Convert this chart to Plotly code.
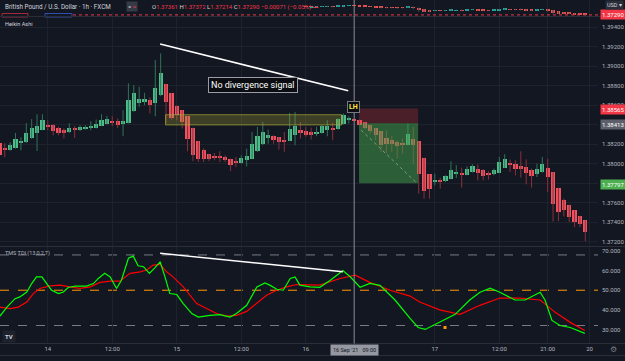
import plotly.graph_objects as go

W, H = 625, 361
BG = "#131722"
GRID = "#1e222d"
TXT = "#b2b5be"
FONT = "Roboto"

# ---------------- data ----------------
bar_index = list(range(-9, 101))
ha_open = [1.38211, 1.38160, 1.38143, 1.38164, 1.38211, 1.38221, 1.38262, 1.38314, 1.38348,
           1.38400, 1.38400, 1.38365, 1.38348, 1.38324, 1.38359, 1.38341, 1.38359, 1.38365, 1.38369,
           1.38386, 1.38410, 1.38437, 1.38437, 1.38410, 1.38420, 1.38537, 1.38626, 1.38640, 1.38650,
           1.38622, 1.38701, 1.38814, 1.38725, 1.38591, 1.38547, 1.38485, 1.38369, 1.38232, 1.38143,
           1.38095, 1.38074, 1.38071, 1.38068, 1.38050, 1.38026, 1.38010, 1.38033, 1.38050, 1.38126,
           1.38198, 1.38262, 1.38280, 1.38273, 1.38246, 1.38232, 1.38290, 1.38341, 1.38334, 1.38324,
           1.38307, 1.38314, 1.38341, 1.38369, 1.38352, 1.38403, 1.38448, 1.38458, 1.38451, 1.38427,
           1.38400, 1.38365, 1.38331, 1.38266, 1.38239, 1.38221, 1.38204, 1.38194, 1.38256, 1.38228,
           1.38061, 1.37889, 1.37820, 1.37835, 1.37817, 1.37845, 1.37889, 1.37900, 1.37886, 1.37913,
           1.37948, 1.37930, 1.37900, 1.37889, 1.37907, 1.37958, 1.38005, 1.37999, 1.37971, 1.37964,
           1.37937, 1.37896, 1.37913, 1.37958, 1.37913, 1.37753, 1.37629, 1.37578, 1.37519, 1.37461,
           1.37416]
ha_high = [1.38239, 1.38208, 1.38218, 1.38314, 1.38270, 1.38414, 1.38455, 1.38506, 1.38506,
           1.38444, 1.38403, 1.38376, 1.38362, 1.38414, 1.38383, 1.38393, 1.38393, 1.38434, 1.38451,
           1.38506, 1.38489, 1.38485, 1.38462, 1.38547, 1.38822, 1.38804, 1.38787, 1.38725, 1.38678,
           1.39061, 1.39130, 1.38814, 1.38725, 1.38598, 1.38547, 1.38485, 1.38369, 1.38232, 1.38156,
           1.38095, 1.38108, 1.38126, 1.38085, 1.38050, 1.38068, 1.38085, 1.38153, 1.38324, 1.38376,
           1.38427, 1.38348, 1.38290, 1.38273, 1.38324, 1.38520, 1.38530, 1.38427, 1.38376, 1.38369,
           1.38376, 1.38393, 1.38444, 1.38417, 1.38462, 1.38513, 1.38485, 1.38462, 1.38451, 1.38427,
           1.38400, 1.38365, 1.38331, 1.38341, 1.38283, 1.38239, 1.38256, 1.38410, 1.38376, 1.38228,
           1.38061, 1.37889, 1.37896, 1.37855, 1.37879, 1.38023, 1.37982, 1.37958, 1.37971, 1.37992,
           1.37992, 1.37944, 1.37920, 1.37948, 1.38068, 1.38095, 1.38040, 1.38033, 1.38126, 1.38043,
           1.37948, 1.37999, 1.38068, 1.38050, 1.37913, 1.37753, 1.37639, 1.37578, 1.37519, 1.37461,
           1.37416]
ha_low = [1.38054, 1.38064, 1.38131, 1.38153, 1.38136, 1.38211, 1.38252, 1.38129, 1.38341,
          1.38341, 1.38290, 1.38290, 1.38259, 1.38314, 1.38262, 1.38334, 1.38346, 1.38341, 1.38359,
          1.38383, 1.38403, 1.38383, 1.38365, 1.38280, 1.38410, 1.38530, 1.38581, 1.38598, 1.38513,
          1.38485, 1.38691, 1.38410, 1.38451, 1.38444, 1.38359, 1.38126, 1.38023, 1.38016, 1.38016,
          1.38026, 1.38033, 1.38016, 1.38016, 1.37923, 1.37964, 1.37999, 1.37971, 1.38050, 1.38119,
          1.38187, 1.38204, 1.38204, 1.38143, 1.38119, 1.38232, 1.38187, 1.38256, 1.38273, 1.38246,
          1.38280, 1.38307, 1.38280, 1.38239, 1.38348, 1.38400, 1.38410, 1.38434, 1.38393, 1.38352,
          1.38311, 1.38239, 1.38119, 1.38108, 1.38119, 1.38050, 1.38102, 1.38187, 1.37992, 1.37691,
          1.37639, 1.37639, 1.37776, 1.37742, 1.37810, 1.37838, 1.37851, 1.37753, 1.37879, 1.37907,
          1.37827, 1.37827, 1.37835, 1.37879, 1.37900, 1.37954, 1.37913, 1.37879, 1.37855, 1.37786,
          1.37753, 1.37862, 1.37907, 1.37707, 1.37406, 1.37409, 1.37457, 1.37399, 1.37348, 1.37348,
          1.37203]
ha_close = [1.38085, 1.38143, 1.38187, 1.38256, 1.38232, 1.38311, 1.38369, 1.38383, 1.38444,
            1.38383, 1.38331, 1.38311, 1.38314, 1.38365, 1.38348, 1.38376, 1.38376, 1.38386, 1.38410,
            1.38444, 1.38455, 1.38420, 1.38393, 1.38434, 1.38650, 1.38719, 1.38657, 1.38660, 1.38598,
            1.38776, 1.38924, 1.38632, 1.38468, 1.38496, 1.38427, 1.38256, 1.38085, 1.38050, 1.38043,
            1.38050, 1.38061, 1.38057, 1.38033, 1.37981, 1.38005, 1.38061, 1.38077, 1.38198, 1.38283,
            1.38324, 1.38290, 1.38246, 1.38221, 1.38221, 1.38352, 1.38383, 1.38314, 1.38297, 1.38297,
            1.38324, 1.38383, 1.38383, 1.38352, 1.38455, 1.38496, 1.38465, 1.38444, 1.38400, 1.38369,
            1.38334, 1.38290, 1.38194, 1.38204, 1.38204, 1.38177, 1.38194, 1.38307, 1.38194, 1.37896,
            1.37717, 1.37742, 1.37835, 1.37820, 1.37876, 1.37930, 1.37913, 1.37879, 1.37944, 1.37971,
            1.37900, 1.37869, 1.37879, 1.37937, 1.38012, 1.38050, 1.37981, 1.37941, 1.37954, 1.37900,
            1.37869, 1.37941, 1.37992, 1.37862, 1.37588, 1.37502, 1.37519, 1.37450, 1.37399, 1.37375,
            1.37296]

x_tick_vals = [0, 12, 24, 36, 48, 72, 84, 93, 100.8]
x_tick_text = ["14", "12:00", "15", "12:00", "16", "17", "12:00", "21:00", "20"]
price_ticks = [1.372, 1.374, 1.376, 1.378, 1.380, 1.382, 1.384, 1.386, 1.388, 1.390, 1.392, 1.394]
price_ticks_hidden = [1.378, 1.384]   # covered by the position-tool price labels
tdi_ticks = [30, 40, 50, 60, 70]
tdi_levels = [68, 50, 32]

tdi_green_x = [-8.9, -7.6, -6.1, -5.2, -3.9, -3.0, -2.1, -1.1, -0.2, 0.7, 2.0, 2.9, 3.8, 5.1, 7.2,
               8.5, 9.4, 10.6, 11.6, 12.8, 13.7, 15.0, 15.9, 16.8, 17.8, 18.9, 19.9, 20.9, 21.8,
               22.7, 24.0, 25.2, 26.8, 28.0, 30.2, 32.0, 33.9, 35.1, 37.0, 38.9, 40.4, 41.3, 42.6,
               43.8, 45.1, 46.0, 46.9, 48.8, 50.6, 52.5, 54.9, 56.2, 58.1, 59.9, 61.8, 64.6, 67.4,
               68.9, 70.2, 72.9, 75.8, 78.5, 80.4, 82.3, 84.1, 86.9, 88.8, 91.6, 92.5, 93.8, 95.3,
               97.2, 99.9]
tdi_green = [36.8, 41.4, 45.7, 46.6, 49.1, 53.4, 56.8, 56.8, 53.4, 50.0, 48.3, 49.1, 51.4, 52.1, 52.1,
             53.4, 56.0, 58.6, 56.8, 50.9, 55.1, 66.3, 67.4, 62.5, 62.0, 58.6, 61.4, 64.5, 56.8,
             48.3, 47.8, 43.2, 38.1, 36.3, 37.2, 37.5, 36.3, 38.1, 42.3, 51.7, 53.7, 52.6, 50.5,
             50.0, 56.0, 56.8, 52.6, 51.7, 51.5, 55.0, 60.0, 57.0, 51.5, 53.5, 52.5, 45.0, 35.6,
             31.0, 30.0, 33.6, 37.7, 45.0, 49.0, 51.0, 49.0, 45.0, 45.0, 49.0, 45.0, 34.6, 32.0,
             31.0, 28.0]
tdi_red_x = [-8.9, -7.0, -5.5, -3.9, -2.7, -1.5, 0.4, 2.3, 4.1, 6.0, 7.9, 9.7, 11.6, 13.4, 15.3,
             17.2, 18.4, 19.6, 20.9, 22.1, 23.3, 25.2, 27.7, 29.6, 31.4, 33.3, 35.1, 37.0, 38.9,
             40.7, 42.6, 44.4, 46.3, 48.8, 50.6, 54.4, 57.2, 59.9, 63.7, 67.4, 69.2, 72.9, 76.7,
             80.4, 84.1, 87.8, 91.6, 94.4, 97.2, 99.9]
tdi_red = [41.4, 40.6, 41.4, 44.0, 48.3, 50.9, 52.2, 52.6, 51.7, 50.9, 51.7, 54.0, 54.6, 54.6, 58.6,
           59.4, 60.3, 62.8, 63.2, 59.4, 56.8, 51.7, 43.2, 40.6, 38.1, 36.8, 37.2, 39.2, 43.2,
           47.4, 50.0, 51.7, 52.9, 52.6, 52.6, 56.0, 57.7, 54.0, 50.0, 47.0, 44.0, 40.0, 37.7,
           42.3, 46.0, 46.0, 45.0, 38.7, 33.6, 29.5]

# drawings (in data units)
zone_box = dict(x0=21.9, x1=54.7, y0=1.38396, y1=1.38501)
trend_price = dict(x0=20.9, y0=1.39226, x1=55.9, y1=1.38746)
trend_tdi = dict(x0=20.9, y0=68.8, x1=54.9, y1=59.4)
pos_x = (57.9, 68.9)
pos_stop, pos_entry, pos_target = 1.38565, 1.38413, 1.37797
last_price = 1.37290
cross_x = 57
dot_x, dot_v = 73.9, 31.0

# ---------------- helpers ----------------
PR = 598 / W


def py(y):
    return 1 - y / H


def px(x):
    return x / W


def body_parts(o, c):
    base = [min(a, b) for a, b in zip(o, c)]
    hgt = [max(abs(b - a), 0.00004) for a, b in zip(o, c)]
    return base, hgt


def wick_xy(idx, lo, hi, mask):
    xs, ys = [], []
    for i, l, h, m in zip(idx, lo, hi, mask):
        if m:
            xs += [i, i, None]
            ys += [l, h, None]
    return xs, ys


up = [c >= o for o, c in zip(ha_open, ha_close)]
dn = [not u for u in up]
base, hgt = body_parts(ha_open, ha_close)

UP_C, DN_C = "#4dbd8a", "#ef5360"
UP_W, DN_W = "#2f7458", "#8c2f3c"

fig = go.Figure()

# main pane wicks + bodies
wx, wy = wick_xy(bar_index, ha_low, ha_high, up)
fig.add_trace(go.Scatter(x=wx, y=wy, mode="lines", line=dict(color=UP_W, width=1),
                         hoverinfo="skip", xaxis="x", yaxis="y"))
wx, wy = wick_xy(bar_index, ha_low, ha_high, dn)
fig.add_trace(go.Scatter(x=wx, y=wy, mode="lines", line=dict(color=DN_W, width=1),
                         hoverinfo="skip", xaxis="x", yaxis="y"))
fig.add_trace(go.Bar(x=bar_index, y=hgt, base=base, width=0.78,
                     marker=dict(color=[UP_C if u else DN_C for u in up], line=dict(width=0)),
                     xaxis="x", yaxis="y", hoverinfo="skip"))

# top (collapsed) pane
wx, wy = wick_xy(bar_index, ha_low, ha_high, [True] * len(bar_index))
fig.add_trace(go.Scatter(x=wx, y=wy, mode="lines", line=dict(color="#3a4a50", width=1),
                         hoverinfo="skip", xaxis="x3", yaxis="y3"))
fig.add_trace(go.Bar(x=bar_index, y=hgt, base=base, width=0.7,
                     marker=dict(color=["#26a69a" if u else "#ef5350" for u in up], line=dict(width=0)),
                     xaxis="x3", yaxis="y3", hoverinfo="skip"))

# TDI pane
fig.add_trace(go.Scatter(x=tdi_red_x, y=tdi_red, mode="lines", line=dict(color="#ff0000", width=1.2),
                         xaxis="x2", yaxis="y2", hoverinfo="skip"))
fig.add_trace(go.Scatter(x=tdi_green_x, y=tdi_green, mode="lines", line=dict(color="#00ff00", width=1.2),
                         xaxis="x2", yaxis="y2", hoverinfo="skip"))
fig.add_trace(go.Scatter(x=[dot_x], y=[dot_v], mode="markers",
                         marker=dict(color="#ff9800", size=3, symbol="square"),
                         xaxis="x2", yaxis="y2", hoverinfo="skip"))

shapes = []
# yellow zone
shapes.append(dict(type="rect", xref="x", yref="y", layer="above", **zone_box,
                   fillcolor="rgba(160,160,50,0.30)", line=dict(color="rgba(170,170,60,0.65)", width=1)))
# position tool
shapes.append(dict(type="rect", xref="x", yref="y", layer="above", x0=pos_x[0], x1=pos_x[1],
                   y0=pos_entry, y1=pos_stop, fillcolor="rgba(242,54,69,0.25)", line=dict(width=0)))
shapes.append(dict(type="rect", xref="x", yref="y", layer="above", x0=pos_x[0], x1=pos_x[1],
                   y0=pos_target, y1=pos_entry, fillcolor="rgba(70,165,75,0.5)", line=dict(width=0)))
shapes.append(dict(type="line", xref="x", yref="y", layer="above", x0=pos_x[0] + 0.4, y0=pos_entry - 0.0007,
                   x1=pos_x[1] - 0.2, y1=pos_target, line=dict(color="rgba(200,200,200,0.55)", width=1, dash="dot")))
# trend lines
shapes.append(dict(type="line", xref="x", yref="y", layer="above", **trend_price,
                   line=dict(color="#ffffff", width=1.5)))
shapes.append(dict(type="line", xref="x2", yref="y2", layer="above", **trend_tdi,
                   line=dict(color="#ffffff", width=1.5)))
# TDI levels
for lv in tdi_levels:
    shapes.append(dict(type="line", xref="paper", yref="y2", x0=0, x1=PR, y0=lv, y1=lv, layer="below",
                       line=dict(color="#ff9800" if lv == 50 else "#787b86", width=1, dash="dash")))
# top pane cover behind legend and price line
shapes.append(dict(type="rect", xref="paper", yref="paper", x0=0, x1=px(303), y0=py(12.5), y1=1,
                   fillcolor=BG, line=dict(width=0), layer="above"))
shapes.append(dict(type="line", xref="paper", yref="y3", x0=px(73), x1=PR, y0=last_price, y1=last_price,
                   line=dict(color="#f23645", width=1, dash="dot"), layer="above"))
shapes.append(dict(type="rect", xref="paper", yref="paper", x0=px(2), x1=px(28), y0=py(17), y1=py(13.5),
                   line=dict(color="#a3283a", width=1), layer="above"))
shapes.append(dict(type="rect", xref="paper", yref="paper", x0=px(45), x1=px(72), y0=py(17), y1=py(13.5),
                   line=dict(color="#2f4fb0", width=1), layer="above"))
# pane separators
for yy in (16.5, 246.5, 343.5, 355.5):
    shapes.append(dict(type="line", xref="paper", yref="paper", x0=0, x1=1, y0=py(yy), y1=py(yy),
                       line=dict(color="#2a2e39", width=1), layer="above"))
# crosshair vertical
shapes.append(dict(type="line", xref="x", yref="paper", x0=cross_x, x1=cross_x, y0=py(343.5), y1=1,
                   line=dict(color="#8a8d96", width=1), layer="above"))

ann = []


def label(x, y, text, size=6, color=TXT, xanchor="left", **kw):
    ann.append(dict(x=px(x), y=py(y), xref="paper", yref="paper", text=text, showarrow=False,
                    xanchor=xanchor, yanchor="middle", font=dict(family=FONT, size=size, color=color), **kw))


label(3, 6.5, "British Pound / U.S. Dollar · 1h · FXCM", size=6.3, color="#d1d4dc")
label(126, 6.5, "<span style='color:#d1d4dc'>=</span> <span style='color:#f23645'>=</span>", size=6,
      bgcolor="#363a45", borderpad=1)
R = "#f23645"
ohlc = (f"O<span style='color:{R}'>1.37361</span> H<span style='color:{R}'>1.37372</span> "
        f"L<span style='color:{R}'>1.37214</span> C<span style='color:{R}'>1.37290</span> "
        f"<span style='color:{R}'>−0.00071 (−0.05%)</span>")
label(150, 6.5, ohlc, size=6.0, color="#d1d4dc")
label(308, 6.5, "<span style='color:#26a69a'>▬</span><span style='color:#f23645'>▬</span>", size=4)
label(3, 24, "Heikin Ashi", size=5.5, color="#d1d4dc")
label(3, 253, "TMS TDI (13,0,2,7)", size=5.5, color=TXT)
label(252.5, 85.5, "No divergence signal", size=9, color="#ffffff", xanchor="center",
      bgcolor="#0b0d12", bordercolor="#9a9da5", borderwidth=1, borderpad=2)
label(353.3, 106.7, "<b>LH</b>", size=7, color="#ffeb3b", xanchor="center",
      bgcolor="#0b0d12", bordercolor="#777a82", borderwidth=1, borderpad=1)
# price scale labels
label(600, 109, f"{pos_stop:.5f}", size=6, color="#ffffff", bgcolor="#f23645", borderpad=1)
label(600, 124, f"{pos_entry:.5f}", size=6, color="#ffffff", bgcolor="#5d606b", borderpad=1)
label(600, 184, f"{pos_target:.5f}", size=6, color="#ffffff", bgcolor="#4caf50", borderpad=1)
label(600, 14.5, f"{last_price:.5f}", size=6, color="#ffffff", bgcolor="#f23645", borderpad=1)
label(605, 5.5, "USD ▾", size=5.5, color="#d1d4dc", bgcolor="#2a2e39", borderpad=1)
label(354.6, 349.5, "16 Sep '21   09:00", size=5.5, color="#131722", xanchor="center",
      bgcolor="#9598a1", borderpad=2)
label(613, 349.5, "⚙", size=8, color="#787b86", xanchor="center")
label(9, 336, "<b>TV</b>", size=6, color="#d1d4dc", xanchor="center", bgcolor="#1e222d", borderpad=2)

axis_common = dict(showline=False, zeroline=False, ticks="", gridcolor=GRID, gridwidth=1)

fig.update_layout(
    width=W, height=H, margin=dict(l=0, r=0, t=0, b=0),
    paper_bgcolor=BG, plot_bgcolor=BG, showlegend=False, bargap=0,
    shapes=shapes, annotations=ann,
    xaxis=dict(domain=[0, PR], range=[-8.89, 102.36], anchor="y", showticklabels=False,
               tickvals=x_tick_vals, showgrid=True, **axis_common),
    yaxis=dict(domain=[py(246.5), py(17)], range=[1.37149, 1.39503], side="right", anchor="x",
               tickvals=price_ticks,
               ticktext=["" if v in price_ticks_hidden else f"{v:.5f}" for v in price_ticks],
               tickfont=dict(family=FONT, size=6, color=TXT), showgrid=True, ticklabelstandoff=3,
               **axis_common),
    xaxis2=dict(domain=[0, PR], matches="x", anchor="y2", tickvals=x_tick_vals, ticktext=x_tick_text,
                tickfont=dict(family=FONT, size=6, color=TXT), showgrid=True, **axis_common),
    yaxis2=dict(domain=[py(343.5), py(247)], range=[22.82, 72.05], side="right", anchor="x2",
                tickvals=tdi_ticks, ticktext=[f"{v:.3f}" for v in tdi_ticks],
                tickfont=dict(family=FONT, size=6, color=TXT), showgrid=False, ticklabelstandoff=3,
                **axis_common),
    xaxis3=dict(domain=[0, PR], matches="x", anchor="y3", showticklabels=False, tickvals=x_tick_vals,
                showgrid=True, **axis_common),
    yaxis3=dict(domain=[py(16.5), 1], range=[1.3709, 1.3918], side="right", anchor="x3",
                showticklabels=False, showgrid=False, **axis_common),
)

fig.write_html("out.html")
